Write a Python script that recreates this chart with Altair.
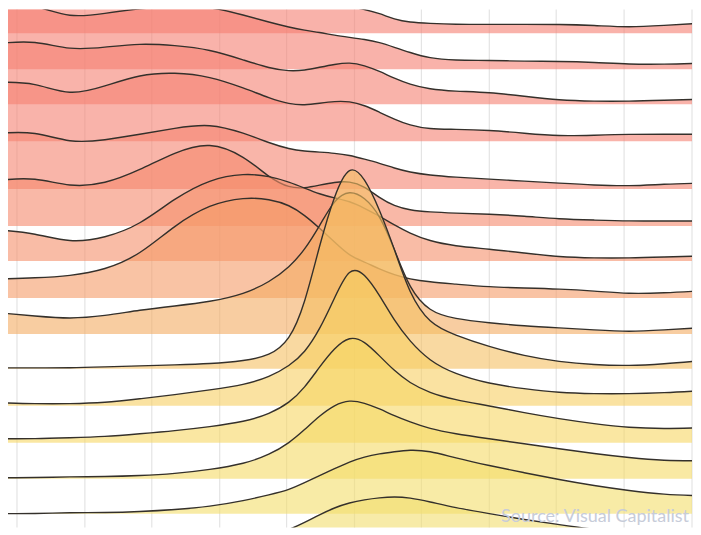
import altair as alt
import pandas as pd

# sample positions along the horizontal axis
xs = [0, 35, 70, 105, 140, 175, 210, 245, 270, 290, 305, 320, 335, 350, 365,
      380, 395, 410, 430, 455, 490, 525, 560, 595, 630, 665, 700]

# vertical grid line positions
grid_vals = [17, 85, 152, 220, 287, 355, 422, 490, 557, 625, 693]

# ridge rows (top to bottom) and their baselines
rows = ["r00", "r01", "r02", "r03", "r04", "r05", "r06", "r07", "r08",
        "r09", "r10", "r11", "r12", "r13", "r14", "r15"]
baselines = [503, 467, 432, 395, 347, 310, 275, 238, 202, 167, 130, 93, 57, 22, -14, -50]

# density heights of each row at xs
heights = [
    [45, 44, 42, 44, 46, 46, 44, 38, 30, 27, 27, 27, 27, 27, 24, 20, 14, 11, 10, 9, 9, 9, 9, 8, 6, 8, 10],
    [66, 65, 51, 56, 61, 63, 63, 54, 47, 42, 39, 37, 34, 32, 30, 27, 22, 17, 11, 9, 9, 8, 8, 7, 5, 5, 6],
    [61, 64, 54, 57, 61, 59, 55, 44, 36, 33, 34, 37, 40, 42, 39, 33, 26, 20, 15, 13, 12, 8, 4, 3, 3, 4, 5],
    [59, 59, 45, 55, 67, 69, 65, 53, 43, 37, 36, 38, 40, 40, 36, 29, 22, 16, 12, 12, 11, 8, 5, 6, 7, 7, 7],
    [56, 58, 46, 49, 55, 61, 66, 56, 46, 40, 38, 37, 36, 34, 30, 26, 21, 17, 14, 12, 10, 8, 6, 4, 3, 5, 6],
    [46, 49, 39, 42, 56, 74, 85, 70, 48, 38, 38, 41, 44, 45, 40, 28, 20, 16, 14, 13, 12, 10, 7, 6, 5, 5, 5],
    [31, 28, 18, 23, 36, 63, 82, 88, 85, 79, 73, 67, 63, 60, 53, 45, 36, 28, 20, 15, 12, 8, 4, 3, 3, 4, 5],
    [19, 20, 22, 28, 43, 73, 94, 101, 99, 93, 83, 70, 56, 42, 36, 29, 23, 19, 16, 14, 11, 10, 9, 7, 4, 5, 7],
    [21, 18, 15, 18, 24, 28, 32, 40, 52, 67, 84, 108, 135, 144, 137, 120, 85, 45, 22, 15, 11, 8, 6, 4, 2, 4, 6],
    [1, 1, 1, 2, 3, 4, 5, 8, 13, 28, 64, 124, 175, 206, 192, 160, 120, 75, 45, 34, 22, 13, 7, 4, 3, 5, 8],
    [3, 2, 2, 3, 7, 11, 16, 21, 29, 40, 53, 76, 108, 140, 133, 111, 85, 65, 45, 32, 22, 17, 13, 12, 12, 13, 15],
    [4, 4, 5, 6, 9, 12, 16, 21, 29, 40, 55, 76, 95, 107, 102, 87, 72, 60, 50, 43, 37, 30, 24, 19, 15, 14, 15],
    [1, 1, 2, 2, 3, 5, 9, 15, 24, 36, 49, 63, 74, 79, 76, 70, 63, 57, 50, 45, 40, 35, 30, 25, 21, 18, 18],
    [0, 0, 1, 1, 2, 4, 7, 13, 19, 24, 31, 38, 45, 52, 57, 60, 62, 64, 63, 56, 48, 41, 34, 28, 23, 19, 18],
    [0, 0, 0, 1, 1, 2, 4, 8, 14, 20, 27, 35, 42, 47, 50, 52, 53, 52, 48, 42, 36, 30, 25, 20, 17, 15, 14],
    [0, 0, 0, 1, 1, 2, 5, 12, 20, 30, 38, 45, 50, 54, 55, 54, 52, 50, 48, 45, 40, 36, 32, 28, 25, 22, 20],
]

colors = ["#F57F71", "#F57F71", "#F58071", "#F58171", "#F5836F", "#F5886D",
          "#F5906B", "#F59B68", "#F4AC62", "#F5C063", "#F6CF62", "#F6D764",
          "#F5DB66", "#F3DD6A", "#F1DE6E", "#EEDF74"]

source_text = "Source: Visual Capitalist"

records = []
for r, b, hs in zip(rows, baselines, heights):
    for x, h in zip(xs, hs):
        records.append({"row": r, "x": x, "base": b, "top": b + h})
df = pd.DataFrame(records)

xscale = alt.Scale(domain=[8, 693], nice=False, zero=False)
yscale = alt.Scale(domain=[8, 527], nice=False, zero=False)

grid = alt.Chart(pd.DataFrame({"g": grid_vals})).mark_rule(
    color="#E4E4E4", strokeWidth=1.2
).encode(x=alt.X("g:Q", scale=xscale, axis=None))

layers = [grid]
base_chart = alt.Chart(df)
for r, c in zip(rows, colors):
    sub = base_chart.transform_filter(alt.datum.row == r)
    area = sub.mark_area(interpolate="basis", clip=True, color=c, fillOpacity=0.6).encode(
        x=alt.X("x:Q", scale=xscale, axis=None),
        y=alt.Y("top:Q", scale=yscale, axis=None),
        y2="base:Q",
    )
    line = sub.mark_line(interpolate="basis", clip=True, color="#34302b", strokeWidth=1.4).encode(
        x=alt.X("x:Q", scale=xscale, axis=None),
        y=alt.Y("top:Q", scale=yscale, axis=None),
    )
    layers += [area, line]

txt = alt.Chart(pd.DataFrame({"t": [source_text]})).mark_text(
    align="right", baseline="middle", font="Lato", fontSize=18, color="#C7CCD9"
).encode(text="t:N", x=alt.value(682), y=alt.value(508))
layers.append(txt)

chart = alt.layer(*layers).properties(
    width=685, height=519, padding=0, background="white"
).configure_view(stroke=None)

chart.save("out.html", embed_options={"renderer": "svg", "actions": False})
